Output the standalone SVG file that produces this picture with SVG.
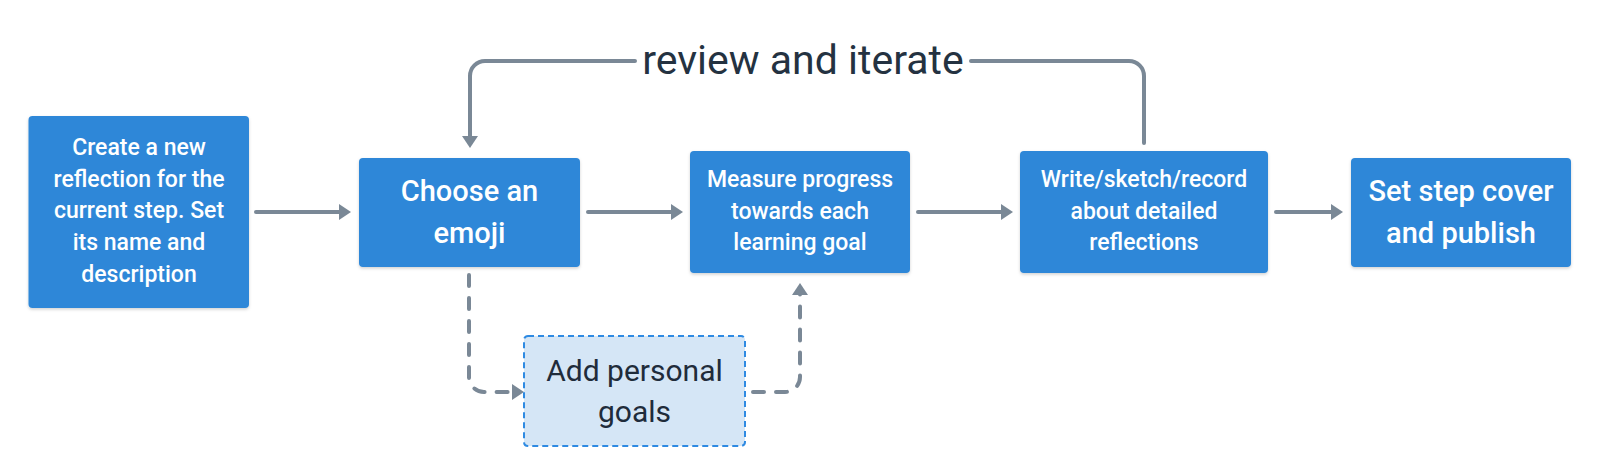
<svg xmlns="http://www.w3.org/2000/svg" width="1600" height="475" viewBox="0 0 1600 475">
  <defs>
    <marker id="arrow" viewBox="0 0 12 16" refX="4" refY="8" markerWidth="12" markerHeight="16" markerUnits="userSpaceOnUse" orient="auto">
      <path d="M0,0 L12,8 L0,16 Z" fill="#7a8896"/>
    </marker>
    <filter id="shadow" x="-10%" y="-10%" width="120%" height="125%">
      <feDropShadow dx="0" dy="1.5" stdDeviation="1.5" flood-color="#000" flood-opacity="0.18"/>
    </filter>
  </defs>
  <style>
    .node { fill: #2d87d8; filter: url(#shadow); }
    .opt { fill: #d5e6f6; stroke: #2e8ae2; stroke-width: 2; stroke-dasharray: 6 4; }
    .t { font-family: Roboto, "Liberation Sans", sans-serif; font-weight: 500; fill: #ffffff; text-anchor: middle; }
    .s { font-size: 23px; }
    .l { font-size: 29px; }
    .dark { fill: #1f2c3b; font-weight: 400; font-size: 30px; }
    .conn { fill: none; stroke: #7a8896; stroke-width: 4; stroke-linecap: round; stroke-linejoin: round; marker-end: url(#arrow); }
    .dash { stroke-dasharray: 11 12; }
    .label { font-family: Roboto, "Liberation Sans", sans-serif; font-size: 41px; font-weight: 400; fill: #243241; text-anchor: middle; }
  </style>
  <rect width="1600" height="475" fill="#ffffff"/>

  <g id="connectors">
    <path class="conn" d="M256 212 H343"/>
    <path class="conn" d="M588 212 H675"/>
    <path class="conn" d="M918 212 H1005"/>
    <path class="conn" d="M1276 212 H1335"/>
    <path class="conn" d="M1144 143 V76 A15 15 0 0 0 1129 61 H971 M635 61 H485 A15 15 0 0 0 470 76 V140"/>
    <path class="conn dash" d="M469 275 V377 A15 15 0 0 0 484 392 H516"/>
    <path class="conn dash" d="M753 392 H785 A15 15 0 0 0 800 377 V291"/>
    <text class="label" x="803" y="74">review and iterate</text>
  </g>

  <g id="node-create">
    <rect class="node" x="28.5" y="116" width="220.5" height="192" rx="4"/>
    <text class="t s" x="139" y="155">Create a new</text>
    <text class="t s" x="139" y="187">reflection for the</text>
    <text class="t s" x="139" y="218">current step. Set</text>
    <text class="t s" x="139" y="250">its name and</text>
    <text class="t s" x="139" y="282">description</text>
  </g>

  <g id="node-emoji">
    <rect class="node" x="359" y="158" width="221" height="109" rx="4"/>
    <text class="t l" x="469.5" y="201">Choose an</text>
    <text class="t l" x="469.5" y="243">emoji</text>
  </g>

  <g id="node-measure">
    <rect class="node" x="690" y="151" width="220" height="122" rx="4"/>
    <text class="t s" x="800" y="187">Measure progress</text>
    <text class="t s" x="800" y="219">towards each</text>
    <text class="t s" x="800" y="250">learning goal</text>
  </g>

  <g id="node-write">
    <rect class="node" x="1020" y="151" width="248" height="122" rx="4"/>
    <text class="t s" x="1144" y="187">Write/sketch/record</text>
    <text class="t s" x="1144" y="219">about detailed</text>
    <text class="t s" x="1144" y="250">reflections</text>
  </g>

  <g id="node-publish">
    <rect class="node" x="1351" y="158" width="220" height="109" rx="4"/>
    <text class="t l" x="1461" y="201">Set step cover</text>
    <text class="t l" x="1461" y="243">and publish</text>
  </g>

  <g id="node-personal">
    <rect class="opt" x="524" y="336" width="221" height="110" rx="4"/>
    <text class="t l dark" x="634.5" y="381">Add personal</text>
    <text class="t l dark" x="634.5" y="422">goals</text>
  </g>
</svg>
